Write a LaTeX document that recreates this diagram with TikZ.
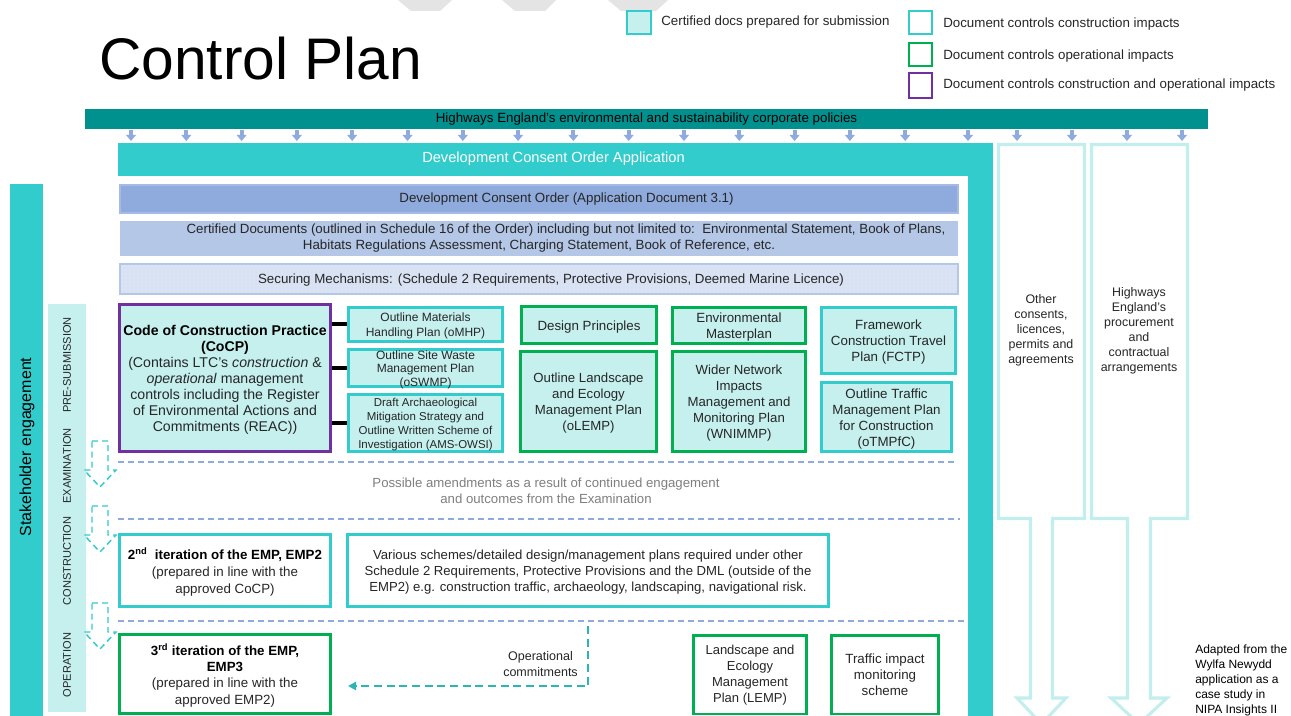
\documentclass[tikz,border=0pt]{standalone}
\usepackage{fontspec}
\setmainfont{Liberation Sans}
\usetikzlibrary{fit,arrows.meta,patterns}
\definecolor{teal2}{HTML}{00918F}
\definecolor{cy}{HTML}{33CCCC}
\definecolor{lcy}{HTML}{C5F0EE}
\definecolor{lcyline}{HTML}{C2EFEE}
\definecolor{grn}{HTML}{00B050}
\definecolor{pur}{HTML}{7030A0}
\definecolor{bl1}{HTML}{8FAADC}
\definecolor{bl2}{HTML}{B4C7E7}
\definecolor{bl3}{HTML}{DAE3F3}
\definecolor{txt}{HTML}{262626}
\definecolor{gtxt}{HTML}{7F7F7F}
\definecolor{wm}{HTML}{E4E4E4}
\definecolor{dcy}{HTML}{2BB5B5}
\tikzset{
  base/.style={inner sep=0pt, align=center, text=txt},
  bt/.style={base, yshift=-1.3pt},
  bx/.style={base, line width=2.2pt, fill=lcy},
  cbox/.style={bx, draw=cy},
  gbox/.style={bx, draw=grn},
  pbox/.style={bx, draw=pur},
  cwbox/.style={cbox, fill=white},
  gwbox/.style={gbox, fill=white},
  sepline/.style={draw=bl1, line width=0.9pt, dash pattern=on 4.5pt off 3pt},
  dasharrow/.style={draw=cy, line width=1.1pt, dash pattern=on 4.5pt off 3pt, line join=miter},
  colline/.style={draw=lcyline, line width=2.3pt, line join=miter},
  ocarrow/.style={draw=dcy, line width=1.5pt, dash pattern=on 6pt off 3.5pt, -{Triangle[length=6pt,width=6pt]}},
  f10/.style={font=\fontsize{10}{12}\selectfont},
  fcol/.style={font=\fontsize{9.3}{11.2}\selectfont},
  stage/.style={base, rotate=90, font=\fontsize{8.3}{10}\selectfont},
}
\begin{document}
\begin{tikzpicture}[x=0.75pt,y=-0.75pt]
\useasboundingbox (0,0) rectangle (1291,716);
\fill[white] (0,0) rectangle (1291,716);
\clip (0,0) rectangle (1291,716);

% faint watermark shapes
\fill[wm] (398,0) -- (452,0) -- (440,11) -- (411,11) -- cycle;
\fill[wm] (502,0) -- (556,0) -- (545,11) -- (515,11) -- cycle;
\fill[wm] (608,0) -- (668,0) -- (656,11) -- (621,11) -- cycle;

% title
\node[base, anchor=base west, text=black, font=\fontsize{44}{50}\selectfont] (title) at (99,80) {Control Plan};

% legend
\node[cbox, line width=1.8pt, fit={(627,11)(651,34)}] (lg1) {};
\node[base, f10, anchor=west] (lg1t) at (661,22) {Certified docs prepared for submission};
\node[cwbox, line width=1.8pt, fit={(909,11)(932,34)}] (lg2) {};
\node[base, f10, anchor=west] (lg2t) at (943,24) {Document controls construction impacts};
\node[gwbox, line width=1.8pt, fit={(909,43)(932,66)}] (lg3) {};
\node[base, f10, anchor=west] (lg3t) at (943,56) {Document controls operational impacts};
\node[base, line width=1.8pt, draw=pur, fill=white, fit={(909,73)(932,98)}] (lg4) {};
\node[base, f10, anchor=west] (lg4t) at (943,85) {Document controls construction and operational impacts};

% policies bar
\node[base, fill=teal2, fit={(85,109)(1208,129)}] (policy) {};
\node[base, f10, text=black] (policyt) at (646.5,119) {Highways England’s environmental and sustainability corporate policies};

% small arrows
\foreach \x in {131,186.3,241.6,296.9,352.2,407.5,462.8,518.1,573.4,628.7,684,739.3,794.6,849.9,905.2,968,1017,1072,1127,1182}{
  \fill[bl1] (\x-2,130) rectangle (\x+2,136);
  \fill[bl1] (\x-5,135) -- (\x+5,135) -- (\x,141) -- cycle;
}

% DCO application frame
\node[base, fill=cy, fit={(118,143)(993,176)}] (dcoa) {};
\node[base, fill=cy, fit={(968,176)(993,716)}] (dcoabar) {};
\node[base, text=white, font=\fontsize{11}{13}\selectfont] (dcoat) at (553.5,158.5) {Development Consent Order Application};

% bars
\node[base, fill=bl1, draw=bl1!80!white, line width=0.8pt, fit={(120,185)(958,213)}] (dco) {};
\node[base, f10] (dcot) at (566.5,199) {Development Consent Order (Application Document 3.1)};
\node[base, fill=bl2, fit={(120,221)(958,256)}] (cert) {};
\node[base, f10] (cert1) at (566,230.5) {Certified Documents (outlined in Schedule 16 of the Order) including but not limited to:~~Environmental Statement, Book of Plans,};
\node[base, f10] (cert2) at (539,246.5) {Habitats Regulations Assessment, Charging Statement, Book of Reference, etc.};
\node[base, fill=bl3, draw=bl2, line width=0.8pt, fit={(120,264)(958,294)}] (sec) {};
\fill[pattern=dots, pattern color=bl2!70!white] (121,265) rectangle (957,293);
\node[base, f10] (sect) at (551,280.5) {Securing Mechanisms: (Schedule 2 Requirements, Protective Provisions, Deemed Marine Licence)};

% stakeholder and stages
\node[base, fill=cy, fit={(10,184)(43,716)}] (stake) {};
\node[base, rotate=90, text=black, font=\fontsize{12}{14}\selectfont] (staket) at (27,447) {Stakeholder engagement};
\node[base, fill=lcy, fit={(48,304)(86,712)}] (stages) {};
\node[stage] (s1) at (67,365) {PRE-SUBMISSION};
\node[stage] (s2) at (67,466) {EXAMINATION};
\node[stage] (s3) at (67,561) {CONSTRUCTION};
\node[stage] (s4) at (67,665) {OPERATION};

% dashed block arrows
\foreach \y in {441,506,603}{
  \draw[dasharrow] (92,\y) -- (108,\y) -- (108,\y+29) -- (116,\y+29) -- (100,\y+46) -- (84,\y+29) -- (92,\y+29) -- cycle;
}

% CoCP group
\node[pbox, fit={(119.5,304.5)(330.5,451.5)}] (cocp) {};
\node[bt, font=\fontsize{10.6}{12}\selectfont] (cocpt) at (cocp.center) {\textbf{\color{black}Code of Construction Practice}\\\textbf{\color{black}(CoCP)}\\(Contains LTC’s \emph{construction} \&\\\emph{operational} management\\controls including the Register\\of Environmental Actions and\\Commitments (REAC))};
\node[cbox, fit={(348.5,307.5)(502.5,341.5)}] (omhp) {};
\node[bt, font=\fontsize{9}{11.25}\selectfont] (omhpt) at (omhp.center) {Outline Materials\\Handling Plan (oMHP)};
\node[cbox, fit={(348.5,349.5)(502.5,386.5)}] (oswmp) {};
\node[bt, font=\fontsize{9}{10.1}\selectfont] (oswmpt) at (oswmp.center) {Outline Site Waste\\Management Plan\\(oSWMP)};
\node[cbox, fit={(348.5,394.5)(502.5,451.5)}] (ams) {};
\node[bt, font=\fontsize{8.6}{10.5}\selectfont] (amst) at (ams.center) {Draft Archaeological\\Mitigation Strategy and\\Outline Written Scheme of\\Investigation (AMS-OWSI)};
\foreach \b in {omhp,oswmp,ams}{
  \draw[black, line width=3pt] (cocp.east |- \b.west) -- (\b.west);
}

% green and cyan boxes
\node[gbox, fit={(521.5,306.5)(656.5,343.5)}] (dp) {};
\node[bt, font=\fontsize{10}{12}\selectfont] (dpt) at (dp.center) {Design Principles};
\node[gbox, fit={(520.5,351.5)(656.5,451.5)}] (olemp) {};
\node[bt, font=\fontsize{9.9}{12}\selectfont] (olempt) at (olemp.center) {Outline Landscape\\and Ecology\\Management Plan\\(oLEMP)};
\node[gbox, fit={(672.5,307.5)(805.5,343.5)}] (em) {};
\node[bt, font=\fontsize{10}{12}\selectfont] (emt) at (em.center) {Environmental\\Masterplan};
\node[gbox, fit={(672.5,351.5)(805.5,451.5)}] (wni) {};
\node[bt, font=\fontsize{9.9}{12}\selectfont] (wnit) at (wni.center) {Wider Network\\Impacts\\Management and\\Monitoring Plan\\(WNIMMP)};
\node[cbox, fit={(821.5,307.5)(955.5,373.5)}] (fctp) {};
\node[bt, font=\fontsize{10}{12}\selectfont] (fctpt) at (fctp.center) {Framework\\Construction Travel\\Plan (FCTP)};
\node[cbox, fit={(821.5,382.5)(951.5,451.5)}] (otmp) {};
\node[bt, font=\fontsize{10}{12}\selectfont] (otmpt) at (otmp.center) {Outline Traffic\\Management Plan\\for Construction\\(oTMPfC)};

% separators
\draw[sepline] (118,462) -- (958,462);
\draw[sepline] (118,519) -- (960,519);
\draw[sepline] (118,621) -- (966,621);

\node[base, text=gtxt, font=\fontsize{9.9}{12}\selectfont] (amend) at (546,491) {Possible amendments as a result of continued engagement\\and outcomes from the Examination};

% construction row
\node[cwbox, fit={(119.5,534.5)(330.5,606.5)}] (emp2) {};
\node[bt, font=\fontsize{10}{13}\selectfont] (emp2t) at (emp2.center) {\textbf{\color{black}2\textsuperscript{nd}~ iteration of the EMP, EMP2}\\(prepared in line with the\\approved CoCP)};
\node[cwbox, fit={(347.5,534.5)(828.5,606.5)}] (various) {};
\node[bt, font=\fontsize{9.85}{12}\selectfont] (varioust) at (various.center) {Various schemes/detailed design/management plans required under other\\Schedule 2 Requirements, Protective Provisions and the DML (outside of the\\EMP2) e.g. construction traffic, archaeology, landscaping, navigational risk.};

% operation row
\node[gwbox, fit={(119.5,634.5)(330.5,713.5)}] (emp3) {};
\node[base, font=\fontsize{10}{12.2}\selectfont] (emp3t) at ([yshift=-1pt]emp3.center) {\textbf{\color{black}3\textsuperscript{rd} iteration of the EMP,}\\\textbf{\color{black}EMP3}\\(prepared in line with the\\approved EMP2)};
\node[gwbox, fit={(693.5,635.5)(806.5,714)}] (lemp) {};
\node[base, font=\fontsize{9.75}{12}\selectfont] (lempt) at (lemp.center) {Landscape and\\Ecology\\Management\\Plan (LEMP)};
\node[gwbox, fit={(831.5,635.5)(938.5,714)}] (tims) {};
\node[base, font=\fontsize{10}{12}\selectfont] (timst) at (tims.center) {Traffic impact\\monitoring\\scheme};

\node[base, font=\fontsize{9.4}{12}\selectfont] (opc) at (540.5,664) {Operational\\commitments};
\coordinate (oc0) at (588,626);
\coordinate (oc1) at (348,686);
\draw[ocarrow] (oc0) |- (oc1);

% right columns
\draw[colline] (998.5,144.5) -- (1084.5,144.5) -- (1084.5,518.5) -- (1052.5,518.5) -- (1052.5,698) -- (1066,698) -- (1041.5,724) -- (1017,698) -- (1030.5,698) -- (1030.5,518.5) -- (998.5,518.5) -- cycle;
\draw[colline] (1091.5,144.5) -- (1187.5,144.5) -- (1187.5,518.5) -- (1150.5,518.5) -- (1150.5,698) -- (1167,698) -- (1139,724) -- (1111,698) -- (1127.5,698) -- (1127.5,518.5) -- (1091.5,518.5) -- cycle;
\node[base, fcol] (oth) at (1041,330) {Other\\consents,\\licences,\\permits and\\agreements};
\node[base, fcol] (hwy) at (1139,331) {Highways\\England’s\\procurement\\and\\contractual\\arrangements};

\node[base, align=left, anchor=north west, font=\fontsize{9}{11.25}\selectfont, text=black] (adapt) at (1195,645) {Adapted from the\\Wylfa Newydd\\application as a\\case study in\\NIPA Insights II};
\end{tikzpicture}
\end{document}
